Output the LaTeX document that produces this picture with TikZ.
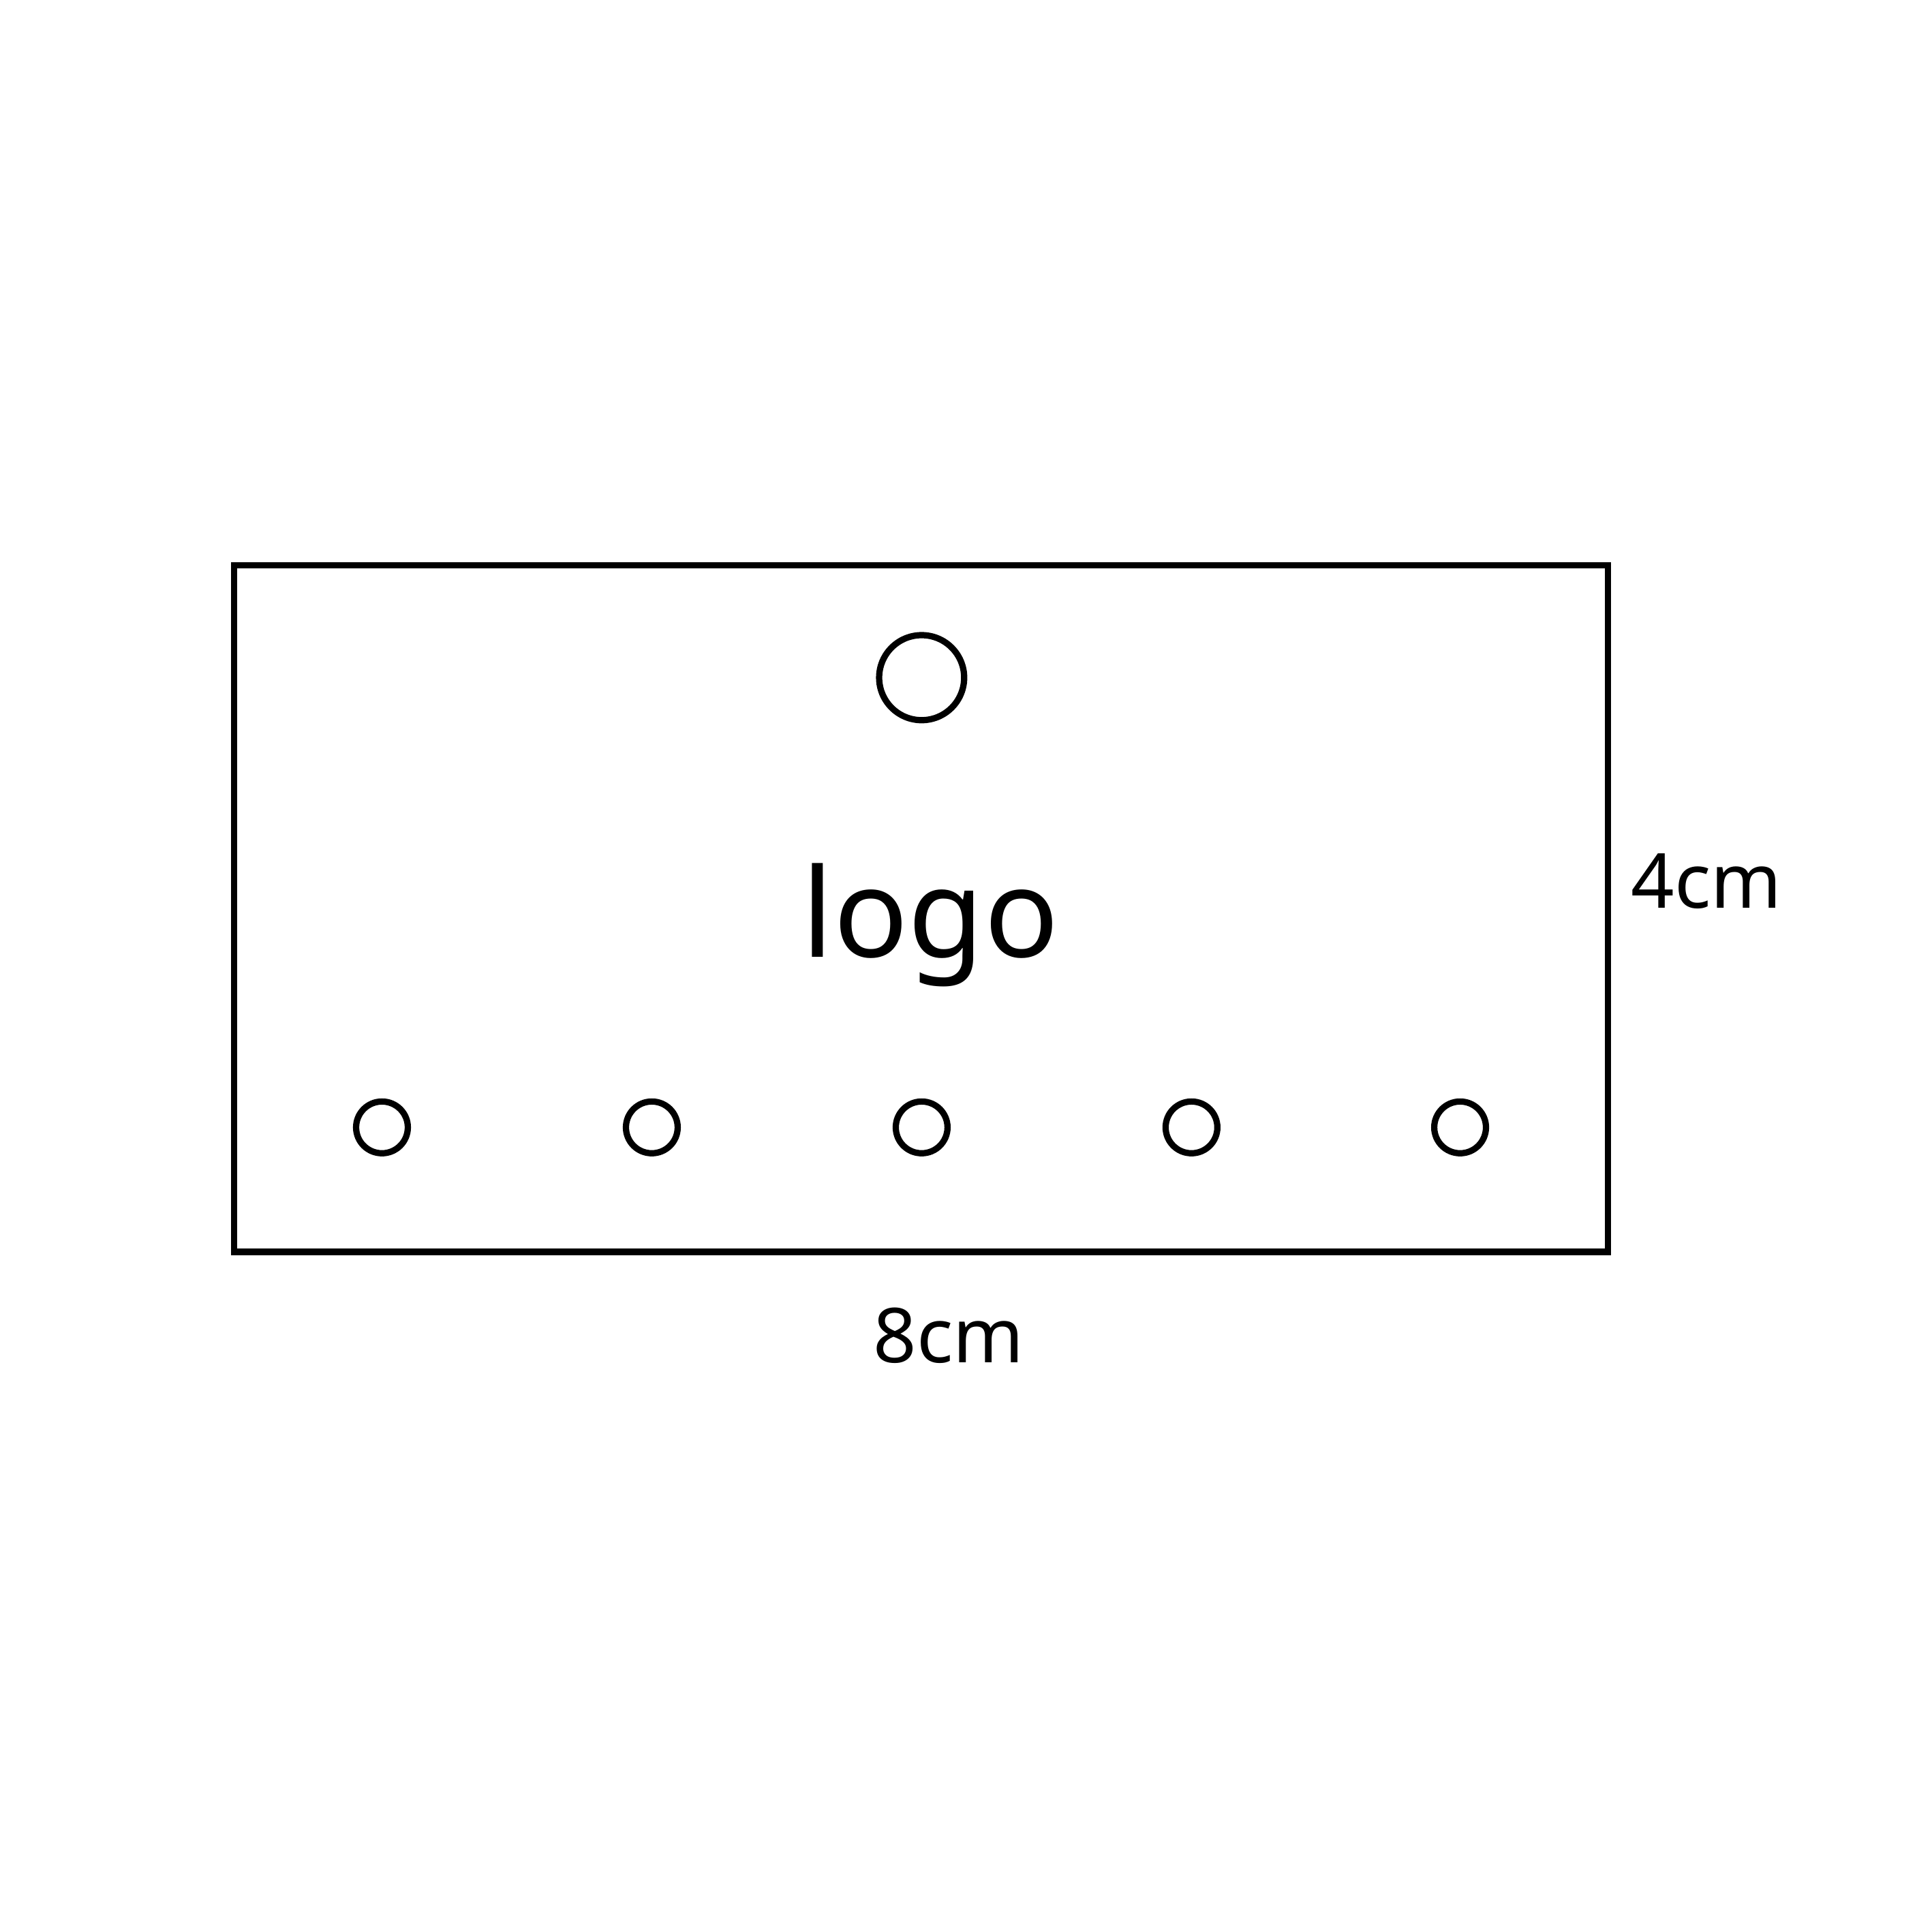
\documentclass[tikz,border=0pt]{standalone}
\usepackage{fontspec}
\setmainfont{Noto Sans}
\begin{document}
\begin{tikzpicture}[
  outline/.style={draw=black, line width=1.45pt},
  hole/.style={outline, circle, inner sep=0pt, minimum size=0.42cm},
  bighole/.style={outline, circle, inner sep=0pt, minimum size=0.69cm},
  dimlabel/.style={font=\fontsize{17.5}{20}\selectfont, inner sep=0pt, anchor=base}
]
\useasboundingbox (0,0) rectangle (15.68,15.68);
\fill[white] (0,0) rectangle (15.68,15.68);
\node[outline, rectangle, inner sep=0pt, minimum width=11.15cm, minimum height=5.57cm] (tag) at (7.475,8.305) {};
\node[bighole] (top) at (7.48,10.18) {};
\foreach \x [count=\i] in {3.10,5.29,7.48,9.67,11.85} {
  \node[hole] (h\i) at (\x,6.53) {};
}
\node[font=\fontsize{28.5}{32}\selectfont, inner sep=0pt, anchor=base] (logo) at (7.55,7.91) {logo};
\node[dimlabel] (height) at (13.85,8.31) {4cm};
\node[dimlabel] (width) at (7.70,4.62) {8cm};
\end{tikzpicture}
\end{document}
